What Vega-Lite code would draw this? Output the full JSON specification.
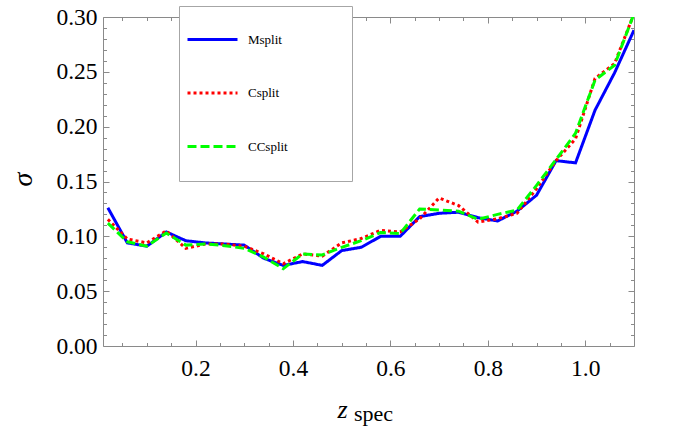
{
  "$schema": "https://vega.github.io/schema/vega-lite/v6.json",
  "width": 531,
  "height": 329,
  "autosize": "none",
  "padding": {"left": 103, "top": 17, "right": 61, "bottom": 88},
  "background": "white",
  "config": {
    "view": {"stroke": "#8a8a8a", "strokeWidth": 1},
    "axis": {
      "grid": false,
      "domain": false,
      "tickColor": "#8a8a8a",
      "labelFont": "Liberation Serif",
      "labelFontSize": 23.5,
      "labelColor": "black",
      "titleFont": "Liberation Serif",
      "titleColor": "black",
      "titleFontWeight": "normal"
    }
  },
  "datasets": {
    "sig": [
      {"z": 0.02, "s": "Msplit", "v": 0.126}, {"z": 0.06, "s": "Msplit", "v": 0.094}, {"z": 0.10, "s": "Msplit", "v": 0.091}, {"z": 0.14, "s": "Msplit", "v": 0.104},
      {"z": 0.18, "s": "Msplit", "v": 0.096}, {"z": 0.22, "s": "Msplit", "v": 0.094}, {"z": 0.26, "s": "Msplit", "v": 0.093}, {"z": 0.30, "s": "Msplit", "v": 0.092},
      {"z": 0.34, "s": "Msplit", "v": 0.080}, {"z": 0.38, "s": "Msplit", "v": 0.0735}, {"z": 0.42, "s": "Msplit", "v": 0.077}, {"z": 0.46, "s": "Msplit", "v": 0.0735},
      {"z": 0.50, "s": "Msplit", "v": 0.087}, {"z": 0.54, "s": "Msplit", "v": 0.090}, {"z": 0.58, "s": "Msplit", "v": 0.100}, {"z": 0.62, "s": "Msplit", "v": 0.100},
      {"z": 0.66, "s": "Msplit", "v": 0.118}, {"z": 0.70, "s": "Msplit", "v": 0.121}, {"z": 0.74, "s": "Msplit", "v": 0.122}, {"z": 0.78, "s": "Msplit", "v": 0.117},
      {"z": 0.82, "s": "Msplit", "v": 0.114}, {"z": 0.86, "s": "Msplit", "v": 0.123}, {"z": 0.90, "s": "Msplit", "v": 0.1375}, {"z": 0.94, "s": "Msplit", "v": 0.169},
      {"z": 0.98, "s": "Msplit", "v": 0.167}, {"z": 1.02, "s": "Msplit", "v": 0.215}, {"z": 1.06, "s": "Msplit", "v": 0.249}, {"z": 1.10, "s": "Msplit", "v": 0.288},
      {"z": 0.02, "s": "Csplit", "v": 0.1155}, {"z": 0.06, "s": "Csplit", "v": 0.0975}, {"z": 0.10, "s": "Csplit", "v": 0.094}, {"z": 0.14, "s": "Csplit", "v": 0.105},
      {"z": 0.18, "s": "Csplit", "v": 0.089}, {"z": 0.22, "s": "Csplit", "v": 0.093}, {"z": 0.26, "s": "Csplit", "v": 0.093}, {"z": 0.30, "s": "Csplit", "v": 0.091},
      {"z": 0.34, "s": "Csplit", "v": 0.084}, {"z": 0.38, "s": "Csplit", "v": 0.075}, {"z": 0.42, "s": "Csplit", "v": 0.084}, {"z": 0.46, "s": "Csplit", "v": 0.082},
      {"z": 0.50, "s": "Csplit", "v": 0.094}, {"z": 0.54, "s": "Csplit", "v": 0.098}, {"z": 0.58, "s": "Csplit", "v": 0.1055}, {"z": 0.62, "s": "Csplit", "v": 0.104},
      {"z": 0.66, "s": "Csplit", "v": 0.116}, {"z": 0.70, "s": "Csplit", "v": 0.135}, {"z": 0.74, "s": "Csplit", "v": 0.128}, {"z": 0.78, "s": "Csplit", "v": 0.113},
      {"z": 0.82, "s": "Csplit", "v": 0.116}, {"z": 0.86, "s": "Csplit", "v": 0.121}, {"z": 0.90, "s": "Csplit", "v": 0.1435}, {"z": 0.94, "s": "Csplit", "v": 0.169},
      {"z": 0.98, "s": "Csplit", "v": 0.189}, {"z": 1.02, "s": "Csplit", "v": 0.244}, {"z": 1.06, "s": "Csplit", "v": 0.2575}, {"z": 1.10, "s": "Csplit", "v": 0.303},
      {"z": 0.02, "s": "CCsplit", "v": 0.112}, {"z": 0.06, "s": "CCsplit", "v": 0.095}, {"z": 0.10, "s": "CCsplit", "v": 0.091}, {"z": 0.14, "s": "CCsplit", "v": 0.103},
      {"z": 0.18, "s": "CCsplit", "v": 0.092}, {"z": 0.22, "s": "CCsplit", "v": 0.093}, {"z": 0.26, "s": "CCsplit", "v": 0.0915}, {"z": 0.30, "s": "CCsplit", "v": 0.089},
      {"z": 0.34, "s": "CCsplit", "v": 0.081}, {"z": 0.38, "s": "CCsplit", "v": 0.0705}, {"z": 0.42, "s": "CCsplit", "v": 0.084}, {"z": 0.46, "s": "CCsplit", "v": 0.083},
      {"z": 0.50, "s": "CCsplit", "v": 0.090}, {"z": 0.54, "s": "CCsplit", "v": 0.096}, {"z": 0.58, "s": "CCsplit", "v": 0.1035}, {"z": 0.62, "s": "CCsplit", "v": 0.1025},
      {"z": 0.66, "s": "CCsplit", "v": 0.125}, {"z": 0.70, "s": "CCsplit", "v": 0.124}, {"z": 0.74, "s": "CCsplit", "v": 0.123}, {"z": 0.78, "s": "CCsplit", "v": 0.1155},
      {"z": 0.82, "s": "CCsplit", "v": 0.120}, {"z": 0.86, "s": "CCsplit", "v": 0.124}, {"z": 0.90, "s": "CCsplit", "v": 0.1465}, {"z": 0.94, "s": "CCsplit", "v": 0.170},
      {"z": 0.98, "s": "CCsplit", "v": 0.194}, {"z": 1.02, "s": "CCsplit", "v": 0.2425}, {"z": 1.06, "s": "CCsplit", "v": 0.256}, {"z": 1.10, "s": "CCsplit", "v": 0.303}
    ]
  },
  "data": {"name": "sig"},
  "layer": [
    {
      "mark": {"type": "line", "strokeWidth": 3, "clip": true},
      "encoding": {
        "x": {"field": "z", "type": "quantitative",
          "scale": {"domain": [0.01, 1.1], "nice": false, "zero": false},
          "axis": {"orient": "bottom", "values": [0.2, 0.4, 0.6, 0.8, 1.0], "format": ".1f", "tickSize": -6, "labelPadding": 16,
                   "title": "z", "titleFontSize": 26, "titleFontStyle": "italic", "titleAlign": "left", "titleBaseline": "alphabetic", "titleX": 234, "titleY": 71}},
        "y": {"field": "v", "type": "quantitative",
          "scale": {"domain": [0, 0.3], "nice": false, "zero": true},
          "axis": {"orient": "left", "values": [0, 0.05, 0.1, 0.15, 0.2, 0.25, 0.3], "format": ".2f", "tickSize": -6, "labelPadding": 12,
                   "title": "σ", "titleFontSize": 28, "titleFontStyle": "italic", "titleAngle": 270, "titleAlign": "center", "titleBaseline": "middle", "titleX": -80, "titleY": 162}},
        "color": {"field": "s", "type": "nominal",
          "scale": {"domain": ["Msplit", "Csplit", "CCsplit"], "range": ["#0000ff", "#ff0000", "#00ff00"]},
          "legend": {"orient": "none", "legendX": 76, "legendY": -11, "title": "\u200b\u2003\u2003\u2003\u2003\u2003\u2003\u2003\u2003\u2003\u2003\u2003\u2003\u2003\u200b", "titleOrient": "bottom", "titleFontSize": 12.2, "titlePadding": 7,
                     "symbolType": "stroke", "symbolSize": 2500, "symbolStrokeWidth": 3, "labelFont": "Liberation Serif", "labelFontSize": 13, "labelColor": "black", "labelOffset": 9,
                     "padding": 7, "rowPadding": 19.5, "strokeColor": "#a6a6a6", "fillColor": "white"}},
        "strokeDash": {"field": "s", "type": "nominal",
          "scale": {"domain": ["Msplit", "Csplit", "CCsplit"], "range": [[1, 0], [3, 3], [9, 4]]},
          "legend": null}
      }
    },
    {
      "mark": {"type": "point", "opacity": 0},
      "encoding": {
        "x": {"field": "z", "type": "quantitative", "axis": {"orient": "bottom", "values": [0.05, 0.1, 0.15, 0.25, 0.3, 0.35, 0.45, 0.5, 0.55, 0.65, 0.7, 0.75, 0.85, 0.9, 0.95, 1.05], "labels": false, "tickSize": -3.5, "title": null}},
        "y": {"field": "v", "type": "quantitative", "axis": {"orient": "left", "values": [0.01, 0.02, 0.03, 0.04, 0.06, 0.07, 0.08, 0.09, 0.11, 0.12, 0.13, 0.14, 0.16, 0.17, 0.18, 0.19, 0.21, 0.22, 0.23, 0.24, 0.26, 0.27, 0.28, 0.29], "labels": false, "tickSize": -3.5, "title": null}}
      }
    },
    {
      "mark": {"type": "point", "opacity": 0},
      "encoding": {
        "x": {"field": "z", "type": "quantitative", "axis": {"orient": "top", "values": [0.2, 0.4, 0.6, 0.8, 1.0], "labels": false, "tickSize": -6, "title": null}},
        "y": {"field": "v", "type": "quantitative", "axis": {"orient": "right", "values": [0, 0.05, 0.1, 0.15, 0.2, 0.25, 0.3], "labels": false, "tickSize": -6, "title": null}}
      }
    },
    {
      "mark": {"type": "point", "opacity": 0},
      "encoding": {
        "x": {"field": "z", "type": "quantitative", "axis": {"orient": "top", "values": [0.05, 0.1, 0.15, 0.25, 0.3, 0.35, 0.45, 0.5, 0.55, 0.65, 0.7, 0.75, 0.85, 0.9, 0.95, 1.05], "labels": false, "tickSize": -3.5, "title": null}},
        "y": {"field": "v", "type": "quantitative", "axis": {"orient": "right", "values": [0.01, 0.02, 0.03, 0.04, 0.06, 0.07, 0.08, 0.09, 0.11, 0.12, 0.13, 0.14, 0.16, 0.17, 0.18, 0.19, 0.21, 0.22, 0.23, 0.24, 0.26, 0.27, 0.28, 0.29], "labels": false, "tickSize": -3.5, "title": null}}
      }
    },
    {
      "data": {"values": [{"t": "spec"}]},
      "mark": {"type": "text", "font": "Liberation Serif", "fontSize": 22, "align": "left", "baseline": "alphabetic", "dy": 75, "color": "black"},
      "encoding": {
        "text": {"field": "t"},
        "x": {"datum": 0.525, "type": "quantitative", "axis": null},
        "y": {"datum": 0, "type": "quantitative", "axis": null}
      }
    }
  ],
  "resolve": {"axis": {"x": "independent", "y": "independent"}}
}
